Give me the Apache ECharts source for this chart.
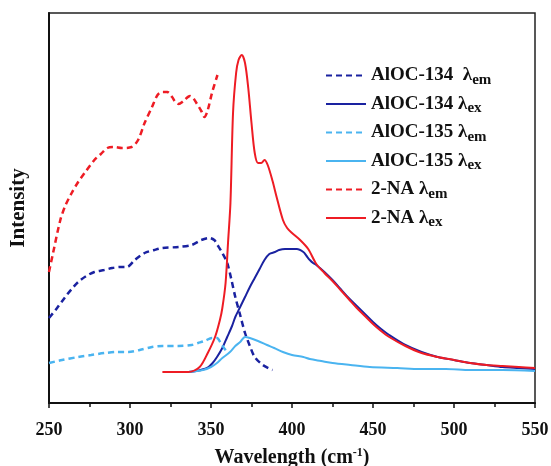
<!DOCTYPE html>
<html>
<head>
<meta charset="utf-8">
<script src="https://cdn.jsdelivr.net/npm/echarts@6/dist/echarts.min.js"></script>
<style>
  html, body { margin: 0; padding: 0; background: #fff; }
  #main { width: 551px; height: 466px; }
</style>
</head>
<body>
<div id="main"></div>
<script>
// wavelength (nm) vs intensity (arb. units)
const aloc134Em = [[250,85],[255,95],[260,106],[264,114],[268,121],[273,127],[278,131],[284,133],[289,135],[294,136],[298,136],[303,143],[309,150],[315,153],[320,155],[330,156],[338,158],[344,163],[349,165],[352,163],[354,158],[357,150],[360,140],[362.5,124],[365,106],[368,88],[371,70],[374,57],[377,46],[382,38],[388,33]]
const aloc134Ex = [[336,31],[341,32],[347.5,35],[351,40],[353.7,46],[357,55],[360,66],[363,77],[365,86],[368,96],[371,106],[374,116],[377,125],[380,134],[383,143],[386,149],[389.5,151],[392,153],[395.7,154],[399,154],[403,154],[407,151],[409,147],[411,143],[413,140],[415,138],[420,131],[425,123],[430,114],[435,105],[440,97],[445,89],[450,81],[455,74],[460,68],[470,58],[480,51],[490,46],[500,43],[510,40],[520,38],[530,36],[540,35],[550,34]]
const aloc135Em = [[250,40],[258,43],[268,46],[276,48],[284.6,50],[292,51],[299,51],[306,53],[313.6,56],[320,57],[330,57],[338,58],[342,60],[346,62],[350.6,65],[353.7,65],[356,60],[358.5,54],[360,51]]
const aloc135Ex = [[336,31],[345,33],[350,36],[353.7,40],[357,45],[361.7,51],[365,57],[368,61],[371,66],[374,65],[379,62],[384.6,58],[389,55],[394.4,51],[400,48],[407,46],[411,44],[418,42],[425,40],[436,38],[448,36],[465,35],[479,34],[495,34],[510,33],[530,33],[550,32]]
const naEm = [[250,131],[252.5,150],[257,183],[260,197],[264,210],[268,221],[272,230],[278,243],[282,249],[286,255],[290,256],[295,255],[301,256],[305,263],[309,280],[313.6,296],[317,308],[320,311],[323,311],[326,306],[328,301],[330,299],[333,302],[337,307],[339,305],[341,300],[344,292],[346,286],[348,293],[350.6,310],[354,328]]
const naEx = [[320,31],[336,31],[343,36],[348,50],[352.5,66],[355.5,83],[357,95],[359,120],[360.5,160],[362,200],[363.6,290],[365.5,330],[367,343],[369,348],[371,340],[373,315],[375,280],[377,250],[379,240],[381,240],[383,243],[385,238],[388,222],[390.5,206],[394.4,183],[397,175],[400,170],[405,163],[410,154],[415,139],[420,130],[425,122],[430,113],[435,104],[440,95],[445,87],[450,79],[455,72],[460,66],[470,57],[480,50],[490,46],[500,43],[510,40],[520,38],[530,37],[540,36],[550,35]]

const seriesNames = ['AlOC-134  λem', 'AlOC-134 λex', 'AlOC-135 λem', 'AlOC-135 λex', '2-NA λem', '2-NA λex']
const seriesData = [aloc134Em, aloc134Ex, aloc135Em, aloc135Ex, naEm, naEx]
const colors = ['#1a22a0', '#1a22a0', '#4ab4f0', '#4ab4f0', '#ee1c24', '#ee1c24']
const dashed = [true, false, true, false, true, false]

const font = 'Liberation Serif'
const myChart = echarts.init(document.getElementById('main'))

const series = seriesNames.map(function (name, i) {
    return {
        name: name,
        type: 'line',
        data: seriesData[i],
        smooth: 0.3,
        symbol: 'none',
        color: colors[i],
        lineStyle: {
            width: dashed[i] ? 2.5 : 2,
            type: dashed[i] ? [6, 4] : 'solid'
        }
    }
})

const option = {
    animation: false,
    grid: {
        left: 49, right: 16, top: 13, bottom: 63,
        outerBoundsMode: 'none',
        show: true,
        borderColor: '#222',
        borderWidth: 1.5
    },
    legend: {
        orient: 'vertical',
        left: 320,
        top: 61,
        itemWidth: 40,
        itemHeight: 14,
        itemGap: 7,
        data: seriesNames,
        // hide the marker dot, keep only the line
        itemStyle: { opacity: 0 },
        formatter: function (name) {
            return '{n|' + name.replace(/λ(em|ex)$/, 'λ}{s|$1}')
        },
        textStyle: {
            color: '#111',
            rich: {
                n: { fontFamily: font, fontWeight: 'bold', fontSize: 19, lineHeight: 22 },
                s: { fontFamily: font, fontWeight: 'bold', fontSize: 15, padding: [9, 0, 0, 0] }
            }
        }
    },
    xAxis: {
        type: 'value',
        min: 250,
        max: 550,
        interval: 50,
        name: '{a|Wavelength (cm}{b|-1}{a|)}',
        nameLocation: 'middle',
        nameGap: 44,
        nameTextStyle: {
            rich: {
                a: { fontFamily: font, fontWeight: 'bold', fontSize: 20, color: '#111' },
                b: { fontFamily: font, fontWeight: 'bold', fontSize: 12, color: '#111', padding: [0, 0, 10, 0] }
            }
        },
        axisLine: { show: true, onZero: false, lineStyle: { color: '#111', width: 2 } },
        axisTick: { show: true, inside: false, length: 5, lineStyle: { color: '#111', width: 1.5 } },
        minorTick: { show: true, splitNumber: 2, length: 4, lineStyle: { color: '#111', width: 1.5 } },
        axisLabel: { margin: 18, fontFamily: font, fontWeight: 'bold', fontSize: 18, color: '#111' },
        splitLine: { show: false }
    },
    yAxis: {
        type: 'value',
        min: 0,
        max: 390,
        name: 'Intensity',
        nameLocation: 'middle',
        nameGap: 20,
        nameTextStyle: { fontFamily: font, fontWeight: 'bold', fontSize: 21, color: '#111' },
        axisLine: { show: true, lineStyle: { color: '#111', width: 2 } },
        axisTick: { show: false },
        axisLabel: { show: false },
        splitLine: { show: false }
    },
    series: series
}
myChart.setOption(option)
</script>
</body>
</html>
